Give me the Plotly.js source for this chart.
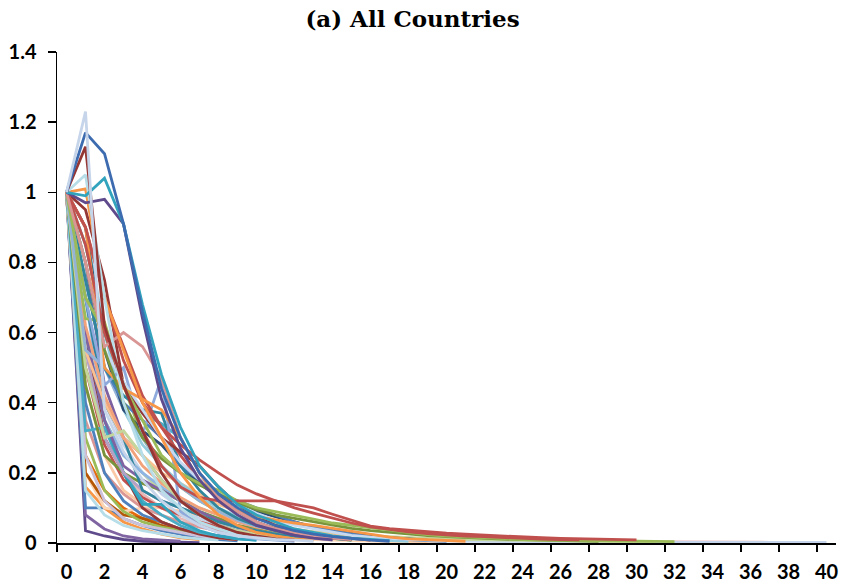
<!DOCTYPE html>
<html>
<head>
<meta charset="utf-8">
<script src="https://cdn.plot.ly/plotly-3.0.1.min.js"></script>
<style>html,body{margin:0;padding:0;background:#fff;}#chart{width:841px;height:585px;}</style>
</head>
<body>
<div id="chart"></div>
<script>
// Periods (categories) 0..40
const periods = [0,1,2,3,4,5,6,7,8,9,10,11,12,13,14,15,16,17,18,19,20,21,22,23,24,25,26,27,28,29,30,31,32,33,34,35,36,37,38,39,40];
const tickLabels = ["0","2","4","6","8","10","12","14","16","18","20","22","24","26","28","30","32","34","36","38","40"];
const tickPositions = [0,2,4,6,8,10,12,14,16,18,20,22,24,26,28,30,32,34,36,38,40];
const yTicks = [0,0.2,0.4,0.6,0.8,1,1.2,1.4];
const yTickLabels = ["0","0.2","0.4","0.6","0.8","1","1.2","1.4"];

// Country series
const s19 = [1,0.035,0.02,0.01,0.005,0.003,0.002,0.001];
const s20 = [1,0.08,0.04,0.02,0.012,0.008,0.005];
const s18 = [1,0.1,0.1,0.07,0.05,0.035,0.025,0.015,0.01,0.006];
const s21 = [1,0.16,0.1,0.06,0.04,0.025,0.015,0.01];
const s22 = [1,0.25,0.15,0.1,0.07,0.06,0.04,0.025,0.015,0.01];
const s23 = [1,0.2,0.1,0.09,0.1,0.1,0.08,0.06,0.05,0.04,0.03,0.02,0.015,0.01,0.008,0.006,0.005,0.004,0.003,0.003,0.002];
const s24 = [1,0.5,0.3,0.2,0.14,0.1,0.07,0.05,0.04,0.03,0.025,0.02,0.017,0.015,0.013,0.012,0.011,0.01,0.009,0.008,0.008,0.007,0.007,0.006,0.006,0.005,0.005,0.005,0.004,0.004,0.004,0.004,0.003,0.003,0.003,0.003,0.002,0.002];
const s25 = [1,0.6,0.4,0.28,0.2,0.14,0.1,0.07,0.05,0.04,0.03,0.025,0.02,0.016,0.013,0.011,0.009,0.008,0.007,0.006,0.005,0.005,0.004,0.004,0.004,0.003,0.003,0.003,0.003,0.002,0.002,0.002,0.002,0.002,0.002,0.002,0.0015,0.0015,0.0015,0.0015,0.0015];
const s52 = [1,0.5,0.35,0.25,0.2,0.15,0.12,0.1,0.08,0.065,0.055,0.045,0.038,0.032,0.027,0.023,0.02,0.017,0.015,0.013,0.011,0.01,0.009,0.008,0.007,0.006,0.005,0.005,0.004,0.004,0.003,0.003];
const s45 = [1,0.35,0.2,0.14,0.1,0.08,0.06,0.045,0.035,0.025,0.018,0.013];
const s46 = [1,0.45,0.25,0.15,0.11,0.1,0.09,0.08,0.07,0.06,0.05,0.04,0.03,0.022,0.016,0.012];
const s47 = [1,0.4,0.2,0.12,0.08,0.06,0.04,0.028,0.02,0.014];
const s48 = [1,0.2,0.12,0.08,0.07,0.05,0.035,0.022,0.015,0.01];
const s49 = [1,0.3,0.15,0.09,0.06,0.045,0.035,0.025,0.018,0.012];
const s50 = [1,0.25,0.12,0.07,0.05,0.04,0.03,0.02,0.014,0.01];
const s51 = [1,0.15,0.08,0.05,0.035,0.025,0.017,0.012,0.008];
const s53 = [1,0.7,0.35,0.25,0.2,0.16,0.12,0.09,0.07,0.05,0.04,0.03,0.022,0.016,0.012];
const s54 = [1,0.5,0.28,0.18,0.13,0.1,0.08,0.06,0.045,0.033,0.025,0.018,0.013];
const s55 = [1,0.6,0.3,0.2,0.1,0.06,0.04,0.025,0.015,0.01];
const s16 = [1,0.32,0.33,0.2,0.12,0.08,0.05,0.03,0.02,0.012,0.008];
const s17 = [1,0.6,0.35,0.2,0.11,0.11,0.06,0.035,0.02,0.012,0.008];
const s33 = [1,0.45,0.25,0.2,0.17,0.15,0.12,0.09,0.07,0.05,0.04,0.03,0.02,0.015,0.01];
const s36 = [1,0.55,0.3,0.2,0.15,0.12,0.1,0.08,0.06,0.045,0.035,0.025,0.018,0.012,0.008];
const s37 = [1,0.6,0.35,0.22,0.18,0.15,0.12,0.09,0.065,0.045,0.03,0.02,0.014,0.01];
const s38 = [1,0.8,0.45,0.3,0.25,0.18,0.12,0.08,0.05,0.035,0.025];
const s44 = [1,0.7,0.4,0.3,0.15,0.12,0.1,0.08,0.06,0.045,0.035,0.025,0.018,0.013];
const s34 = [1,0.55,0.4,0.3,0.25,0.2,0.17,0.14,0.11,0.09,0.07,0.055,0.04,0.03,0.022,0.016,0.012,0.009,0.007,0.005];
const s35 = [1,0.62,0.42,0.3,0.22,0.17,0.13,0.1,0.08,0.06,0.045,0.035,0.025,0.018,0.013];
const s32 = [1,0.5,0.3,0.32,0.25,0.18,0.12,0.08,0.05,0.035,0.025,0.018,0.012,0.008];
const s31 = [1,0.64,0.63,0.45,0.3,0.22,0.16,0.12,0.09,0.07,0.05,0.035,0.025,0.018,0.012,0.008];
const s40 = [1,0.55,0.5,0.38,0.3,0.22,0.16,0.12,0.09,0.065,0.048,0.035,0.026,0.019,0.014,0.01];
const s39 = [1,0.9,0.6,0.38,0.28,0.22,0.17,0.13,0.1,0.075,0.055,0.04,0.03,0.022,0.016,0.012,0.009,0.007,0.005];
const s43 = [1,0.9,0.55,0.38,0.32,0.28,0.22,0.17,0.13,0.11,0.09,0.075,0.06,0.045,0.035,0.027,0.02,0.015,0.011,0.008];
const s27 = [1,0.75,0.5,0.4,0.35,0.3,0.22,0.18,0.14,0.12,0.1,0.08,0.06,0.045,0.035,0.025,0.018,0.013,0.01,0.007,0.005];
const s30 = [1,0.85,0.6,0.45,0.37,0.34,0.3,0.2,0.13,0.09,0.06,0.04,0.028,0.02,0.014,0.01];
const s15 = [1,0.75,0.5,0.42,0.38,0.37,0.22,0.15,0.1,0.07,0.05,0.035,0.025,0.018,0.012,0.008];
const s14 = [1,0.7,0.45,0.5,0.31,0.47,0.09,0.05,0.03,0.02,0.012,0.008,0.005];
const s28 = [1,0.9,0.7,0.56,0.42,0.33,0.25,0.18,0.13,0.09,0.06,0.04,0.03,0.02,0.014,0.01];
const s29 = [1,0.95,0.75,0.45,0.37,0.3,0.26,0.22,0.16,0.11,0.075,0.05,0.035,0.025,0.018,0.012,0.008];
const s41 = [1,0.8,0.55,0.46,0.38,0.3,0.23,0.18,0.145,0.11,0.085,0.065,0.05,0.04,0.03,0.022,0.017,0.013,0.01,0.008,0.006];
const s42 = [1,0.9,0.5,0.44,0.41,0.38,0.3,0.2,0.12,0.09,0.075,0.065,0.057,0.05,0.042,0.032,0.024,0.017,0.012,0.009,0.007,0.005];
const s11 = [1,0.8,0.55,0.4,0.3,0.24,0.2,0.165,0.14,0.115,0.095,0.08,0.07,0.06,0.05,0.042,0.035,0.03,0.025,0.021,0.018,0.015,0.013,0.011,0.01,0.008,0.007,0.006,0.005];
const s12 = [1,0.7,0.6,0.45,0.35,0.25,0.2,0.17,0.15,0.12,0.1,0.09,0.08,0.068,0.057,0.05,0.045,0.037,0.03,0.024,0.02,0.017,0.014,0.012,0.01,0.009,0.008,0.007,0.006,0.005,0.005,0.004,0.004];
const s09 = [1,0.85,0.6,0.45,0.32,0.22,0.16,0.13,0.12,0.12,0.12,0.12,0.11,0.1,0.082,0.065,0.048,0.041,0.036,0.032,0.028,0.025,0.022,0.019,0.017,0.015,0.013,0.012,0.011,0.01,0.009];
const s10 = [1,0.9,0.7,0.52,0.4,0.33,0.28,0.237,0.2,0.165,0.14,0.12,0.1,0.085,0.07,0.057,0.046,0.038,0.032,0.027,0.023,0.02,0.018,0.015,0.013,0.011,0.01,0.009];
const s08 = [1,0.8,0.56,0.6,0.56,0.47,0.3,0.2,0.13,0.09,0.06,0.04,0.03,0.02,0.014,0.01];
const s06 = [1,1.01,0.7,0.55,0.4,0.3,0.2,0.13,0.08,0.05,0.03,0.02,0.012,0.008];
const s07 = [1,1.05,0.7,0.4,0.25,0.15,0.1,0.06,0.04,0.025,0.015,0.01];
const s05 = [1,1.13,0.62,0.45,0.32,0.2,0.12,0.08,0.05,0.03,0.02,0.012,0.008];
const s04 = [1,0.97,0.98,0.91,0.64,0.41,0.27,0.18,0.12,0.08,0.05,0.035,0.022,0.014,0.009];
const s03 = [1,0.99,1.04,0.91,0.68,0.48,0.33,0.22,0.16,0.11,0.08,0.06,0.04,0.03,0.02,0.014,0.01,0.007];
const s02 = [1,1.17,1.11,0.91,0.66,0.44,0.3,0.2,0.14,0.1,0.07,0.05,0.035,0.025,0.018,0.012,0.008,0.005];
const s01 = [1,1.23,0.38,0.26,0.18,0.12,0.08,0.05,0.03,0.02,0.015,0.01,0.008,0.005];

const seriesList = [s19,s20,s18,s21,s22,s23,s24,s25,s52,s45,s46,s47,s48,s49,s50,s51,s53,s54,s55,s16,s17,s33,s36,s37,s38,s44,s34,s35,s32,s31,s40,s39,s43,s27,s30,s15,s14,s28,s29,s41,s42,s11,s12,s09,s10,s08,s06,s07,s05,s04,s03,s02,s01];
const seriesColors = ['#5F4A8B','#8064A2','#4F81BD','#F79646','#E46C0A','#FCD5B5','#E6B9B8','#C5D4EA','#C3D69B','#D99694','#FBC9A6','#4F81BD','#B65708','#9BBB59','#CCC1DA','#B7DEE8','#8EB4E3','#C0504D','#953735','#4BACC6','#31A3BD','#77933C','#B3A2C7','#8064A2','#7D60A0','#31859C','#FAC090','#F2A27A','#C3D69B','#9BBB59','#95B3D7','#93CDDD','#2C4D75','#4F81BD','#4BACC6','#31859C','#8EA9DB','#C0504D','#953735','#C6D9F1','#F79646','#77933C','#9BBB59','#C0504D','#C0504D','#D99694','#F79646','#B7DEE8','#943634','#5F4A8B','#31A3BD','#3D6BB0','#C6D5EA'];

const traces = seriesList.map((vals, i) => ({
  type: 'scatter',
  mode: 'lines',
  x: periods.slice(0, vals.length),
  y: vals,
  line: {color: seriesColors[i], width: 2.8},
  hoverinfo: 'skip',
  showlegend: false
}));

const layout = {
  width: 841, height: 585,
  margin: {l: 57, r: 5, t: 52, b: 42},
  paper_bgcolor: '#fff', plot_bgcolor: '#fff',
  showlegend: false,
  title: {
    text: '(a) All Countries',
    font: {family: 'DejaVu Serif', size: 23, color: '#000', weight: 'bold'},
    xref: 'container', x: 0.4905, xanchor: 'center',
    yref: 'container', y: 0.9675, yanchor: 'middle'
  },
  xaxis: {
    range: [-0.5, 40.5],
    tickmode: 'array', tickvals: tickPositions, ticktext: tickLabels,
    ticks: '', showgrid: false, zeroline: false,
    showline: true, linecolor: '#000', linewidth: 1.5,
    tickfont: {family: 'Lato', size: 20, color: '#000', weight: 'bold'},
    ticklabelstandoff: 10,
    minor: {tickmode: 'linear', tick0: -0.5, dtick: 2, ticks: 'outside', ticklen: 7, tickwidth: 1.5, tickcolor: '#000', showgrid: false}
  },
  yaxis: {
    range: [0, 1.4],
    tickmode: 'array', tickvals: yTicks, ticktext: yTickLabels,
    ticks: 'outside', ticklen: 8, tickwidth: 1.5, tickcolor: '#000',
    showgrid: false, zeroline: false,
    showline: true, linecolor: '#000', linewidth: 1.5,
    tickfont: {family: 'Lato', size: 20, color: '#000', weight: 'bold'},
    ticklabelstandoff: 7
  }
};

Plotly.newPlot('chart', traces, layout, {staticPlot: true, displayModeBar: false});
</script>
</body>
</html>
